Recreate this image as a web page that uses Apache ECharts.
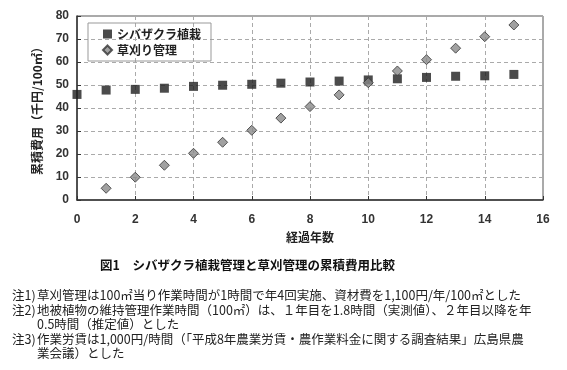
<!DOCTYPE html>
<html><head><meta charset="utf-8">
<script src="https://cdn.jsdelivr.net/npm/echarts@6/dist/echarts.min.js"></script>
<style>html,body{margin:0;padding:0;background:#fff}#c{width:567px;height:370px}</style>
</head><body><div id="c"></div>
<script>
const years = [0,1,2,3,4,5,6,7,8,9,10,11,12,13,14,15];
const shibaName = 'シバザクラ植栽';
const kusaName = '草刈り管理';
const shibaValues = [45.9,47.8,48.1,48.6,49.4,49.9,50.3,50.8,51.3,51.7,52.2,52.7,53.3,53.8,54.0,54.6];
const kusaYears = [1,2,3,4,5,6,7,8,9,10,11,12,13,14,15];
const kusaValues = [5.1,9.9,15.1,20.3,25.1,30.3,35.6,40.6,45.7,51.0,56.1,61.0,66.0,71.0,76.1];
const xTicks = [0,2,4,6,8,10,12,14,16];
const yTicks = [0,10,20,30,40,50,60,70,80];
const xTitle = '経過年数';
const yTitle = '累積費用（千円/100㎡）';
const caption = '図1　シバザクラ植栽管理と草刈管理の累積費用比較';
const notes = [
  ['注1)', '草刈管理は100㎡当り作業時間が1時間で年4回実施、資材費を1,100円/年/100㎡とした'],
  ['注2)', '地被植物の維持管理作業時間（100㎡）は、１年目を1.8時間（実測値）、２年目以降を年'],
  ['', '0.5時間（推定値）とした'],
  ['注3)', '作業労賃は1,000円/時間（「平成8年農業労賃・農作業料金に関する調査結果」広島県農'],
  ['', '業会議）とした']
];

const FONT = '"Liberation Sans","Noto Sans CJK JP",sans-serif';
const JFONT = '"Noto Sans CJK JP",sans-serif';
const chart = echarts.init(document.getElementById('c'), null, {renderer:'canvas'});

const noteGraphics = [];
const noteY = [289, 304, 318, 333, 347];
notes.forEach((n, i) => {
  if (n[0]) noteGraphics.push({type:'text', left:12, top:noteY[i], style:{text:n[0], font:'12.5px '+JFONT, fill:'#222'}});
  noteGraphics.push({type:'text', left:37, top:noteY[i], style:{text:n[1], font:'12.5px '+JFONT, fill:'#222'}});
});

chart.setOption({
  animation:false,
  backgroundColor:'#fff',
  grid:{left:77, right:24, top:16, bottom:170, show:true, borderColor:'#555', borderWidth:1},
  legend:{
    show:true, left:88, top:23, orient:'vertical', itemGap:4,
    padding:[5,10,5,14], borderColor:'#999', borderWidth:1,
    itemWidth:9, itemHeight:9,
    textStyle:{fontFamily:JFONT, fontSize:12, fontWeight:'bold', color:'#222'},
    data:[{name:shibaName, icon:'rect'},{name:kusaName, icon:'diamond'}]
  },
  xAxis:{
    type:'value', min:0, max:16, interval:2,
    name:xTitle, nameLocation:'middle', nameGap:31,
    nameTextStyle:{fontFamily:JFONT, fontSize:12, fontWeight:'bold', color:'#222'},
    axisLine:{lineStyle:{color:'#333', width:1.5}},
    axisTick:{inside:true, length:4, lineStyle:{color:'#333'}},
    axisLabel:{margin:14, fontFamily:FONT, fontSize:12, fontWeight:'bold', color:'#333',
      formatter:v=>xTicks.includes(v)?String(v):''},
    splitLine:{show:true, lineStyle:{type:[4,3], color:'#aaa'}}
  },
  yAxis:{
    type:'value', min:0, max:80, interval:10,
    name:yTitle, nameLocation:'middle', nameGap:34,
    nameTextStyle:{fontFamily:JFONT, fontSize:12, fontWeight:'bold', color:'#222'},
    axisLine:{show:true, lineStyle:{color:'#333', width:1.5}},
    axisTick:{show:true, inside:true, length:4, lineStyle:{color:'#333'}},
    axisLabel:{margin:8, fontFamily:FONT, fontSize:12, fontWeight:'bold', color:'#333',
      formatter:v=>yTicks.includes(v)?String(v):''},
    splitLine:{show:true, lineStyle:{type:[4,3], color:'#aaa'}}
  },
  series:[
    {name:shibaName, type:'scatter', symbol:'rect', symbolSize:9,
     itemStyle:{color:'#1e1e1e'},
     data:years.map((x,i)=>[x, shibaValues[i]])},
    {name:kusaName, type:'scatter', symbol:'diamond', symbolSize:[10,10],
     itemStyle:{color:'#8a8a8a', borderColor:'#333', borderWidth:1},
     data:kusaYears.map((x,i)=>[x, kusaValues[i]])}
  ],
  graphic:[
    {type:'text', left:100, top:259, style:{text:caption, font:'bold 12.5px '+JFONT, fill:'#111'}}
  ].concat(noteGraphics)
});
</script></body></html>
